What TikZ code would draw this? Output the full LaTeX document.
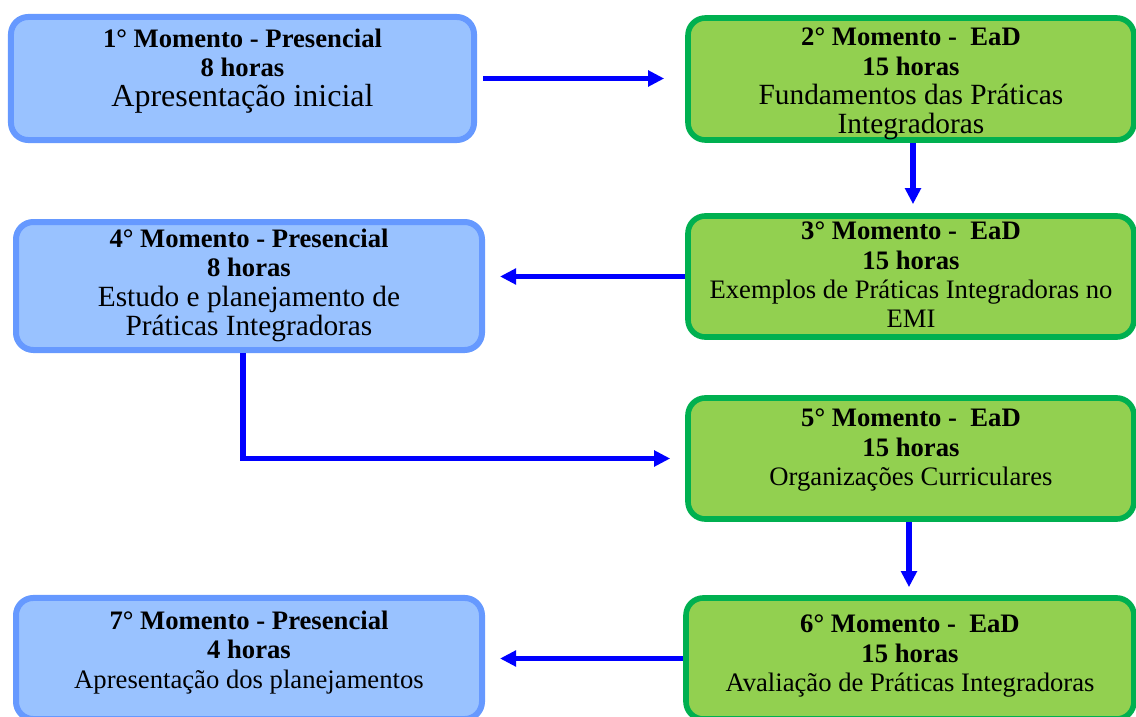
\documentclass[tikz,border=0pt]{standalone}
\usepackage{fontspec}
\setmainfont{Liberation Serif}
\usetikzlibrary{arrows.meta, positioning}
\definecolor{presfundo}{HTML}{99C2FF}
\definecolor{presborda}{HTML}{6699FF}
\definecolor{eadfundo}{HTML}{92D050}
\definecolor{eadborda}{HTML}{00B050}
\definecolor{seta}{HTML}{0000FF}
\newcommand\caixa[4]{\parbox[c][#2][t]{#1}{\vspace*{#3}\centering\fontsize{20}{22}\selectfont #4}}
\newcommand\grande[1]{{\fontsize{22}{24}\selectfont #1}}

\begin{document}
\begin{tikzpicture}[x=0.75pt, y=-0.75pt, inner sep=0pt,
	pres/.style={draw=presborda, fill=presfundo, line width=4.5pt, rounded corners=13pt},
	ead/.style={draw=eadborda, fill=eadfundo, line width=4.2pt, rounded corners=13pt},
	fluxo/.style={draw=seta, line width=3.8pt, -{Triangle[length=12pt, width=11.5pt]}}]
		\clip (0,0) rectangle (1136,717);
		\node[pres]	(m1) at (242.5,78.5)	{\caixa{347.3pt}{92.3pt}{9pt}{\textbf{1° Momento - Presencial}\\ \textbf{8 horas}\\ {\fontsize{24}{26}\selectfont Apresentação inicial}}};
		\node[ead]	(m2) at (911,79)	{\caixa{334.5pt}{91.5pt}{7.5pt}{\textbf{2° Momento - ~EaD}\\ \textbf{15 horas}\\ \grande{Fundamentos das Práticas}\\ \grande{Integradoras}}};
		\node[ead]	(m3) at (911,276.5)	{\caixa{334.5pt}{90.8pt}{4.5pt}{\textbf{3° Momento - ~EaD}\\ \textbf{15 horas}\\ Exemplos de Práticas Integradoras no\\ EMI}};
		\node[pres]	(m4) at (249,286)	{\caixa{349.5pt}{96pt}{5.25pt}{\textbf{4° Momento - Presencial}\\ \textbf{8 horas}\\ \grande{Estudo e planejamento de}\\ \grande{Práticas Integradoras}}};
		\node[ead]	(m5) at (911,458.5)	{\caixa{334.5pt}{90.8pt}{8.25pt}{\textbf{5° Momento - ~EaD}\\ \textbf{15 horas}\\ Organizações Curriculares}};
		\node[ead]	(m6) at (910,658.5)	{\caixa{336pt}{90.8pt}{12.75pt}{\textbf{6° Momento - ~EaD}\\ \textbf{15 horas}\\ Avaliação de Práticas Integradoras}};
		\node[pres]	(m7) at (249,658.5)	{\caixa{349.5pt}{90.8pt}{9.75pt}{\textbf{7° Momento - Presencial}\\ \textbf{4 horas}\\ Apresentação dos planejamentos}};
		% setas entre os momentos
		\draw[fluxo, shorten <=4.5pt, shorten >=15.75pt] (m1.east) -- (m1.east -| m2.west);
		\draw[fluxo, shorten >=6.75pt] ([xshift=1.5pt]m2.south) -- ([xshift=1.5pt]m2.south |- m3.north);
		\draw[fluxo, shorten >=11.25pt] (m3.west) -- (m3.west -| m4.east);
		\draw[fluxo, shorten >=11.25pt] ([xshift=-4.5pt]m4.south) |- (m5.west);
		\draw[fluxo, shorten >=6pt] ([xshift=-1.5pt]m5.south) -- ([xshift=-1.5pt]m5.south |- m6.north);
		\draw[fluxo, shorten >=11.25pt] (m6.west) -- (m6.west -| m7.east);
\end{tikzpicture}
\end{document}
